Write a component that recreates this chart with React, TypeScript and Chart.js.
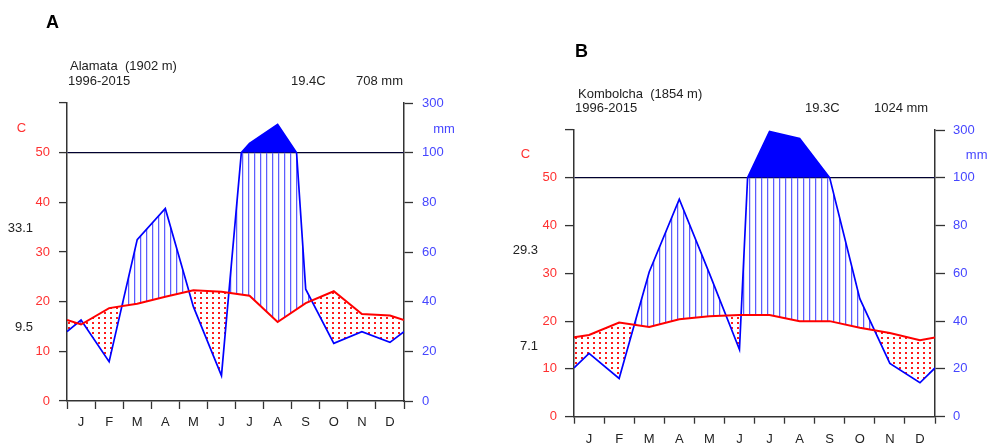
import React, { useEffect, useRef } from 'react';
import { Chart, registerables, LinearScale } from 'chart.js';

// ---------------- data ----------------
const MONTHS = ['J', 'F', 'M', 'A', 'M', 'J', 'J', 'A', 'S', 'O', 'N', 'D'];
const TEMP_TICKS = [0, 10, 20, 30, 40, 50, 60];
const PREC_TICKS = [0, 20, 40, 60, 80, 100, 300];

// Panel A: Alamata
const TEMP_A = [15.4, 18.7, 19.6, 21.0, 22.3, 22.0, 21.2, 15.9, 19.7, 22.1, 17.5, 17.2];
const PREC_A = [32.6, 15.8, 65, 77.5, 38, 10.2, 137, 214, 45, 23.2, 27.9, 23.6];
const TEMP_EDGE_A = 16.3;
const PREC_EDGE_A = 27.9;
const MAX_LABEL_A = '33.1';
const MIN_LABEL_A = '9.5';

// Panel B: Kombolcha
const TEMP_B = [17.1, 19.7, 18.8, 20.4, 21.0, 21.3, 21.3, 20.0, 20.0, 18.6, 17.5, 16.0];
const PREC_B = [26.5, 16, 60.6, 91, 60, 28.1, 294, 264, 100, 49.4, 22.3, 14.2];
const TEMP_EDGE_B = 16.6;
const PREC_EDGE_B = 20.4;
const MAX_LABEL_B = '29.3';
const MIN_LABEL_B = '7.1';

// ---------------- scale ----------------
class WalterLiethScale extends LinearScale {
  static id = 'walterLieth';
  static defaults = LinearScale.defaults;
  buildTicks() {
    return PREC_TICKS.map((v) => ({ value: v }));
  }
  getPixelForValue(value: any) {
    if (value === null || value === undefined || isNaN(value)) return NaN;
    const u = value <= 100 ? value / 2 : 50 + (value - 100) / 20;
    return this.getPixelForDecimal(u / 60);
  }
  getValueForPixel(pixel: number) {
    const u = this.getDecimalForPixel(pixel) * 60;
    return u <= 50 ? u * 2 : 100 + (u - 50) * 20;
  }
}

Chart.register(...registerables, WalterLiethScale as any);
Chart.defaults.font.family = '"Liberation Sans", Arial, sans-serif';
Chart.defaults.font.size = 13;

const FONT = '"Liberation Sans", Arial, sans-serif';
const RED_TEXT = '#ff3030';
const BLUE_TEXT = '#4646ff';
const AXIS = '#333333';

type Pt = { x: number; y: number };

function monthlySeries(edge: number, values: number[]): Pt[] {
  return [{ x: 0, y: edge }, ...values.map((v, i) => ({ x: i + 0.5, y: v })), { x: 12, y: edge }];
}

// adds the exact vertex where the line passes the 100 mm break of the scale
function withBreak(points: Pt[], limit: number): Pt[] {
  const out: Pt[] = [];
  points.forEach((p, i) => {
    if (i > 0) {
      const q = points[i - 1];
      if ((q.y - limit) * (p.y - limit) < 0) {
        const f = (limit - q.y) / (p.y - q.y);
        out.push({ x: q.x + f * (p.x - q.x), y: limit });
      }
    }
    out.push(p);
  });
  return out;
}

function makeHatch(): CanvasPattern | string {
  const c = document.createElement('canvas');
  c.width = 6;
  c.height = 6;
  const g = c.getContext('2d')!;
  g.fillStyle = '#5c5cff';
  g.fillRect(2, 0, 1, 6);
  g.fillStyle = 'rgba(120,120,255,0.3)';
  g.fillRect(3, 0, 1, 6);
  const p = document.createElement('canvas').getContext('2d')!.createPattern(c, 'repeat');
  return p || '#8080ff';
}

function makeDots(): CanvasPattern | string {
  const c = document.createElement('canvas');
  c.width = 6;
  c.height = 5;
  const g = c.getContext('2d')!;
  g.fillStyle = '#ff1a1a';
  g.fillRect(2, 2, 2, 2);
  const p = document.createElement('canvas').getContext('2d')!.createPattern(c, 'repeat');
  return p || '#ff8080';
}

type PanelCfg = {
  temp: number[];
  prec: number[];
  tempEdge: number;
  precEdge: number;
  maxLabel: string;
  minLabel: string;
  offset: number;
  width: number;
  height: number;
  area: { left: number; right: number; top: number; bottom: number };
  yTickL: number;
  yPadL: number;
  yTickR: number;
  yPadR: number;
  xTick: number;
  xPad: number;
  cOffset: number;
  mmOffset: number;
  valOffset: number;
};

const X_TICKS = Array.from({ length: 25 }, (_, i) => i / 2);

function sideLabels(cfg: PanelCfg) {
  return {
    id: 'sideLabels',
    afterDraw(chart: any) {
      const { ctx, chartArea, scales } = chart;
      const yT = scales.y;
      ctx.save();
      ctx.font = `13px ${FONT}`;
      ctx.textBaseline = 'middle';
      ctx.textAlign = 'center';
      ctx.fillStyle = RED_TEXT;
      ctx.fillText('C', chartArea.left - cfg.cOffset, yT.getPixelForValue(54.8));
      ctx.fillStyle = BLUE_TEXT;
      ctx.fillText('mm', chartArea.right + cfg.mmOffset, yT.getPixelForValue(54.6));
      ctx.fillStyle = '#222';
      ctx.textAlign = 'right';
      ctx.fillText(cfg.maxLabel, chartArea.left - cfg.valOffset, yT.getPixelForValue(34.8));
      ctx.fillText(cfg.minLabel, chartArea.left - cfg.valOffset, yT.getPixelForValue(14.8));
      ctx.restore();
    },
  };
}

function Panel({ cfg }: { cfg: PanelCfg }) {
  const ref = useRef<HTMLCanvasElement>(null);
  useEffect(() => {
    if (!ref.current) return;
    const tempPts = monthlySeries(cfg.tempEdge, cfg.temp);
    const precPts = withBreak(monthlySeries(cfg.precEdge, cfg.prec), 100);
    const clipped = precPts.map((p) => ({ x: p.x, y: Math.min(p.y, 100) }));
    const { area, width, height } = cfg;
    const chart = new Chart(ref.current, {
      type: 'line',
      data: {
        datasets: [
          {
            label: 'Temperature',
            data: tempPts,
            yAxisID: 'y',
            borderColor: '#ff0000',
            borderWidth: 2,
            pointRadius: 0,
            fill: false,
            tension: 0,
          },
          {
            label: 'Precipitation',
            data: precPts,
            yAxisID: 'yP',
            borderColor: '#0000ff',
            borderWidth: 1.7,
            pointRadius: 0,
            tension: 0,
            fill: { value: 100, above: '#0000ff', below: 'rgba(0,0,0,0)' } as any,
          },
          {
            label: 'Humid / arid',
            data: clipped,
            yAxisID: 'yP',
            borderColor: 'rgba(0,0,0,0)',
            borderWidth: 0,
            pointRadius: 0,
            tension: 0,
            fill: { target: 0, above: makeHatch(), below: makeDots() } as any,
          },
        ],
      } as any,
      options: {
        responsive: false,
        animation: false,
        events: [],
        layout: { padding: { top: area.top, left: 0, right: 0, bottom: 0 } },
        plugins: { legend: { display: false }, tooltip: { enabled: false }, title: { display: false } },
        scales: {
          x: {
            type: 'linear',
            min: 0,
            max: 12,
            afterBuildTicks: (s: any) => {
              s.ticks = X_TICKS.map((v) => ({ value: v }));
            },
            afterFit: (s: any) => {
              s.height = height - area.bottom;
            },
            ticks: {
              autoSkip: false,
              maxRotation: 0,
              minRotation: 0,
              padding: cfg.xPad,
              color: '#222',
              callback: (v: any) => (Number.isInteger(v) ? '' : MONTHS[Math.floor(v)]),
            },
            grid: {
              drawOnChartArea: false,
              tickLength: cfg.xTick,
              tickWidth: 1.3,
              tickColor: (ctx: any) =>
                ctx.tick && Number.isInteger(ctx.tick.value) ? AXIS : 'rgba(0,0,0,0)',
            },
            border: { color: AXIS, width: 1.5 },
          },
          y: {
            type: 'linear',
            position: 'left',
            min: 0,
            max: 60,
            afterBuildTicks: (s: any) => {
              s.ticks = TEMP_TICKS.map((v) => ({ value: v }));
            },
            afterFit: (s: any) => {
              s.width = area.left;
            },
            ticks: {
              color: RED_TEXT,
              padding: cfg.yPadL,
              callback: (v: any) => (v === 60 ? '' : String(v)),
            },
            grid: {
              drawOnChartArea: true,
              color: (ctx: any) => (ctx.tick && ctx.tick.value === 50 ? '#000000' : 'rgba(0,0,0,0)'),
              lineWidth: 1.2,
              tickColor: AXIS,
              tickLength: cfg.yTickL,
              tickWidth: 1.3,
            },
            border: { color: AXIS, width: 1.5 },
          },
          yP: {
            type: 'walterLieth',
            position: 'right',
            min: 0,
            max: 300,
            afterFit: (s: any) => {
              s.width = width - area.right;
            },
            ticks: {
              color: BLUE_TEXT,
              padding: cfg.yPadR,
              callback: (v: any) => String(v),
            },
            grid: {
              drawOnChartArea: false,
              tickColor: AXIS,
              tickLength: cfg.yTickR,
              tickWidth: 1.3,
            },
            border: { color: AXIS, width: 1.5 },
          } as any,
        },
      } as any,
      plugins: [sideLabels(cfg)],
    });
    return () => chart.destroy();
  }, []);
  return (
    <canvas
      ref={ref}
      width={cfg.width}
      height={cfg.height}
      style={{ position: 'absolute', left: cfg.offset, top: 0, width: cfg.width, height: cfg.height }}
    />
  );
}

const PANEL_A: PanelCfg = {
  temp: TEMP_A,
  prec: PREC_A,
  tempEdge: TEMP_EDGE_A,
  precEdge: PREC_EDGE_A,
  maxLabel: MAX_LABEL_A,
  minLabel: MIN_LABEL_A,
  offset: 0,
  width: 495,
  height: 445,
  area: { left: 67, right: 404, top: 103, bottom: 401 },
  yTickL: 8,
  yPadL: 9,
  yTickR: 9,
  yPadR: 9,
  xTick: 8,
  xPad: 6,
  cOffset: 45.5,
  mmOffset: 40,
  valOffset: 34,
};

const PANEL_B: PanelCfg = {
  temp: TEMP_B,
  prec: PREC_B,
  tempEdge: TEMP_EDGE_B,
  precEdge: PREC_EDGE_B,
  maxLabel: MAX_LABEL_B,
  minLabel: MIN_LABEL_B,
  offset: 495,
  width: 494,
  height: 445,
  area: { left: 79, right: 440, top: 130, bottom: 416.7 },
  yTickL: 9,
  yPadL: 8,
  yTickR: 10,
  yPadR: 8,
  xTick: 7,
  xPad: 8,
  cOffset: 48.5,
  mmOffset: 41.7,
  valOffset: 36,
};

function Text({ x, baseline, size = 13, bold = false, children }: any) {
  return (
    <div
      style={{
        position: 'absolute',
        left: x,
        top: baseline - 0.8465 * size,
        fontSize: size,
        lineHeight: `${size}px`,
        fontFamily: FONT,
        fontWeight: bold ? 700 : 400,
        whiteSpace: 'pre',
        color: bold ? '#000' : '#222',
      }}
    >
      {children}
    </div>
  );
}

export default function App() {
  return (
    <div
      style={{
        position: 'absolute',
        left: 0,
        top: 0,
        width: 989,
        height: 445,
        overflow: 'hidden',
        background: '#fff',
      }}
    >
      <Panel cfg={PANEL_A} />
      <Panel cfg={PANEL_B} />
      <Text x={46} baseline={28} size={18} bold>A</Text>
      <Text x={70} baseline={70}>{'Alamata  (1902 m)'}</Text>
      <Text x={68} baseline={85}>1996-2015</Text>
      <Text x={291} baseline={85}>19.4C</Text>
      <Text x={356} baseline={85}>708 mm</Text>
      <Text x={575} baseline={57} size={18} bold>B</Text>
      <Text x={578} baseline={97.7}>{'Kombolcha  (1854 m)'}</Text>
      <Text x={575} baseline={111.7}>1996-2015</Text>
      <Text x={805} baseline={111.7}>19.3C</Text>
      <Text x={874} baseline={111.7}>1024 mm</Text>
    </div>
  );
}
